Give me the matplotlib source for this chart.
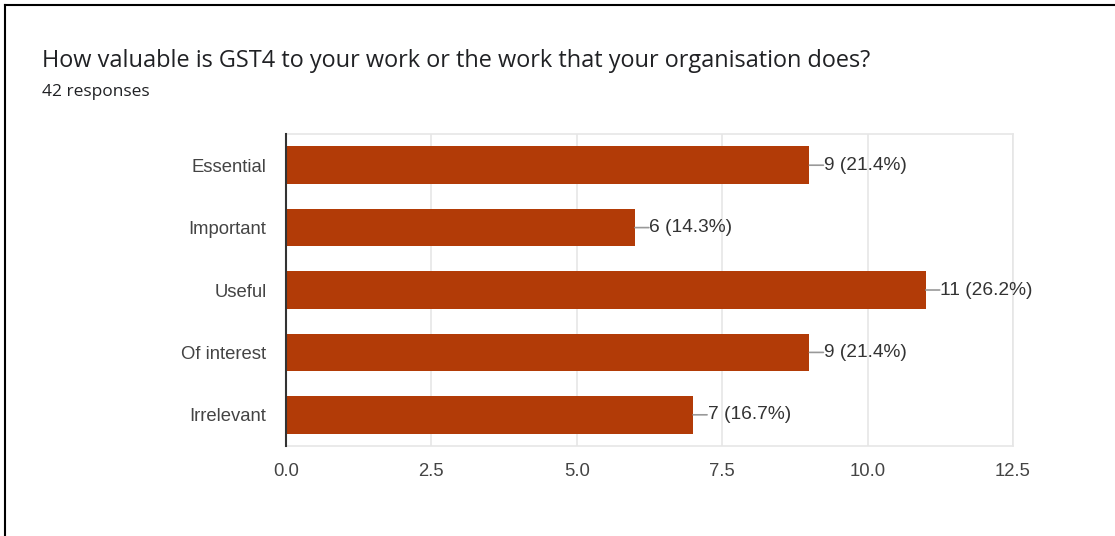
import matplotlib.pyplot as plt
from matplotlib.lines import Line2D

# Survey answers, top to bottom
categories = ['Essential', 'Important', 'Useful', 'Of interest', 'Irrelevant']
counts = [9, 6, 11, 9, 7]
total = 42
xticks = [0.0, 2.5, 5.0, 7.5, 10.0, 12.5]

bar_color = '#b23b07'
text_color = '#444444'

plt.rcParams['font.family'] = ['Liberation Sans', 'DejaVu Sans']

fig = plt.figure(figsize=(11.15, 5.36), dpi=100)
ax = fig.add_axes([0.2565, 0.1679, 0.652, 0.5821])

ypos = list(range(len(categories)))
ax.barh(ypos, counts, height=0.6, color=bar_color, zorder=3)

# value labels with short leader line
for y, c in zip(ypos, counts):
    pct = c / total * 100
    ax.annotate('', xy=(c, y), xytext=(c + 0.24, y),
                arrowprops=dict(arrowstyle='-', color='#999999', lw=1.2,
                                shrinkA=0, shrinkB=0), zorder=4)
    ax.text(c + 0.25, y, f'{c} ({pct:.1f}%)', va='center', ha='left',
            fontsize=13.8, color='#333333', zorder=4)

ax.set_xlim(0, 12.5)
ax.set_ylim(len(categories) - 0.5, -0.5)
ax.set_yticks(ypos)
ax.set_yticklabels(categories)
ax.set_xticks(xticks)
ax.set_xticklabels([f'{t:.1f}' for t in xticks])
ax.tick_params(axis='both', length=0, labelsize=13.3, labelcolor=text_color)
ax.tick_params(axis='y', pad=14)
ax.tick_params(axis='x', pad=12)

ax.grid(axis='x', color='#e6e6e6', lw=1.2, zorder=0)
for side in ['top', 'bottom', 'right']:
    ax.spines[side].set_color('#e6e6e6')
    ax.spines[side].set_linewidth(1.2)
ax.spines['left'].set_color('#333333')
ax.spines['left'].set_linewidth(1.5)
ax.spines['left'].set_zorder(5)

fig.text(42 / 1115, 1 - 61 / 536, 'How valuable is GST4 to your work or the work that your organisation does?',
         fontsize=16.9, color='#202124', va='center', ha='left', family=['Open Sans', 'DejaVu Sans'])
fig.text(42 / 1115, 1 - 92 / 536, '42 responses', fontsize=12.5, color='#202124',
         va='center', ha='left', family=['Open Sans', 'DejaVu Sans'])

# frame lines on top and left edges
fig.add_artist(Line2D([5 / 1115, 1], [1 - 5 / 536, 1 - 5 / 536], transform=fig.transFigure,
                      color='black', lw=1.5))
fig.add_artist(Line2D([5 / 1115, 5 / 1115], [0, 1 - 5 / 536], transform=fig.transFigure,
                      color='black', lw=1.5))

fig.savefig('out.png', dpi=100, facecolor='white')
